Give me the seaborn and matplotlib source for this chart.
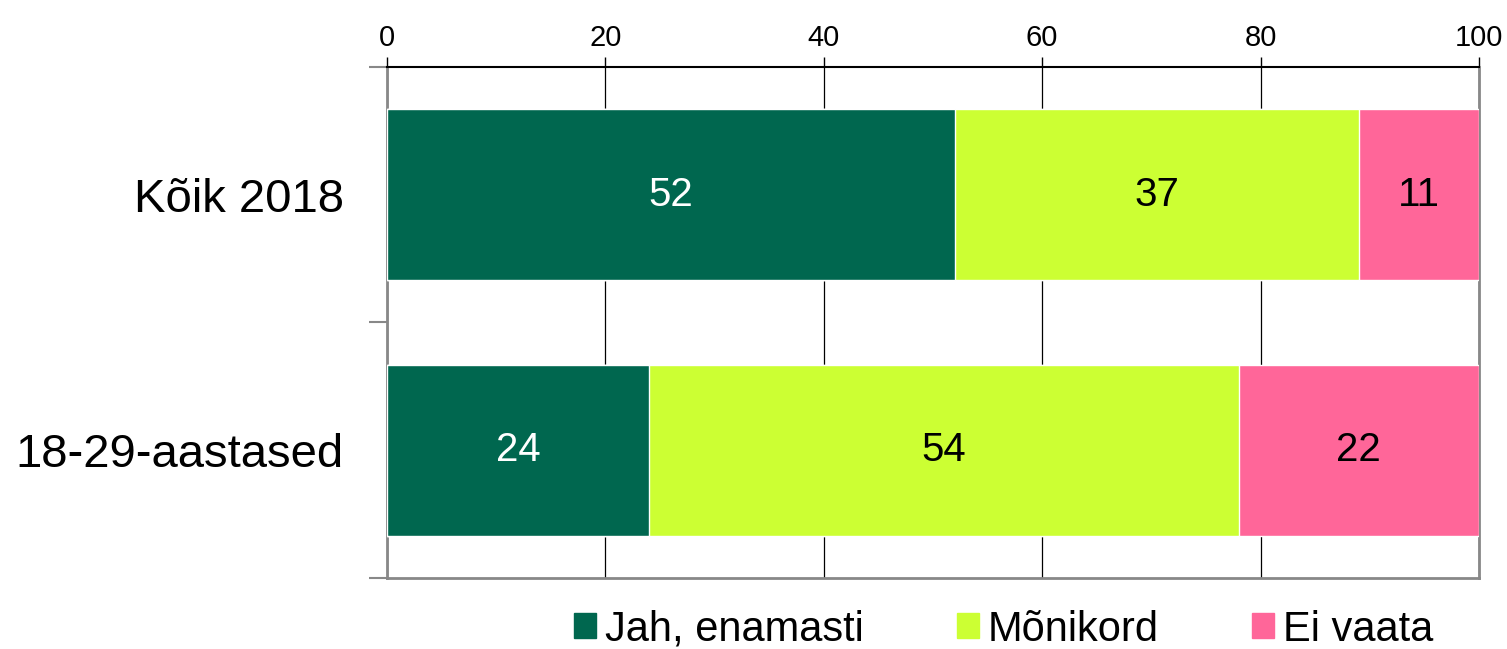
import numpy as np
import pandas as pd
import matplotlib.pyplot as plt
import seaborn as sns

# Data
categories = ['Kõik 2018', '18-29-aastased']
series_names = ['Jah, enamasti', 'Mõnikord', 'Ei vaata']
jah = [52, 24]
monikord = [37, 54]
ei_vaata = [11, 22]
colors = ['#00674f', '#ccff33', '#ff6699']
x_ticks = [0, 20, 40, 60, 80, 100]

sns.set_style('white')
plt.rcParams['font.family'] = ['Liberation Sans', 'DejaVu Sans']
plt.rcParams['text.color'] = 'black'
plt.rcParams['xtick.labelcolor'] = 'black'
plt.rcParams['ytick.labelcolor'] = 'black'

fig = plt.figure(figsize=(15.07, 6.49), dpi=100)
ax = fig.add_axes([0.2568, 0.1094, 0.7246, 0.7874])

values = [jah, monikord, ei_vaata]
cum = np.cumsum(np.array(values), axis=0)

# draw from the back (full length) to the front so the bars look stacked
for k in range(len(series_names) - 1, -1, -1):
    df = pd.DataFrame({'cat': categories, 'val': cum[k]})
    sns.barplot(data=df, x='val', y='cat', orient='h', color=colors[k],
                width=0.67, saturation=1, ax=ax, zorder=3)

# value labels
for k, vals in enumerate(values):
    starts = cum[k] - np.array(vals)
    for i, v in enumerate(vals):
        ax.text(starts[i] + v / 2, i, f'{v}', ha='center', va='center',
                fontsize=29, color='white' if k == 0 else 'black', zorder=5)

ax.set_xlim(0, 100)
ax.set_ylim(1.5, -0.5)
ax.set_xticks(x_ticks)
ax.xaxis.tick_top()
ax.tick_params(axis='x', labelsize=21, length=7, width=1, color='black',
               direction='out', pad=4, top=True, bottom=False)
ax.set_xlabel('')
ax.set_ylabel('')
ax.xaxis.grid(True, color='black', linewidth=0.9, zorder=0)
ax.set_axisbelow(True)

# y ticks at category boundaries, labels at category centres
ax.set_yticks([-0.5, 0.5, 1.5])
ax.set_yticklabels(['', '', ''])
ax.set_yticks([0, 1], minor=True)
ax.set_yticklabels(categories, minor=True, fontsize=34)
ax.tick_params(axis='y', which='major', length=13, width=1.5, color='#888888',
               left=True, direction='out')
ax.tick_params(axis='y', which='minor', length=0, pad=31)

for side in ['left', 'right', 'bottom']:
    ax.spines[side].set_color('#888888')
    ax.spines[side].set_linewidth(2)
ax.spines['top'].set_color('black')
ax.spines['top'].set_linewidth(1.5)

handles = [plt.Rectangle((0, 0), 1, 1, color=c) for c in colors]
fig.legend(handles, series_names, loc='center', bbox_to_anchor=(0.666, 0.03),
           ncol=3, frameon=False, fontsize=30, handlelength=0.53, handleheight=0.53,
           handletextpad=0.2, columnspacing=2.25, borderpad=0)

plt.savefig('out.png', dpi=100, facecolor='#ffffff')
